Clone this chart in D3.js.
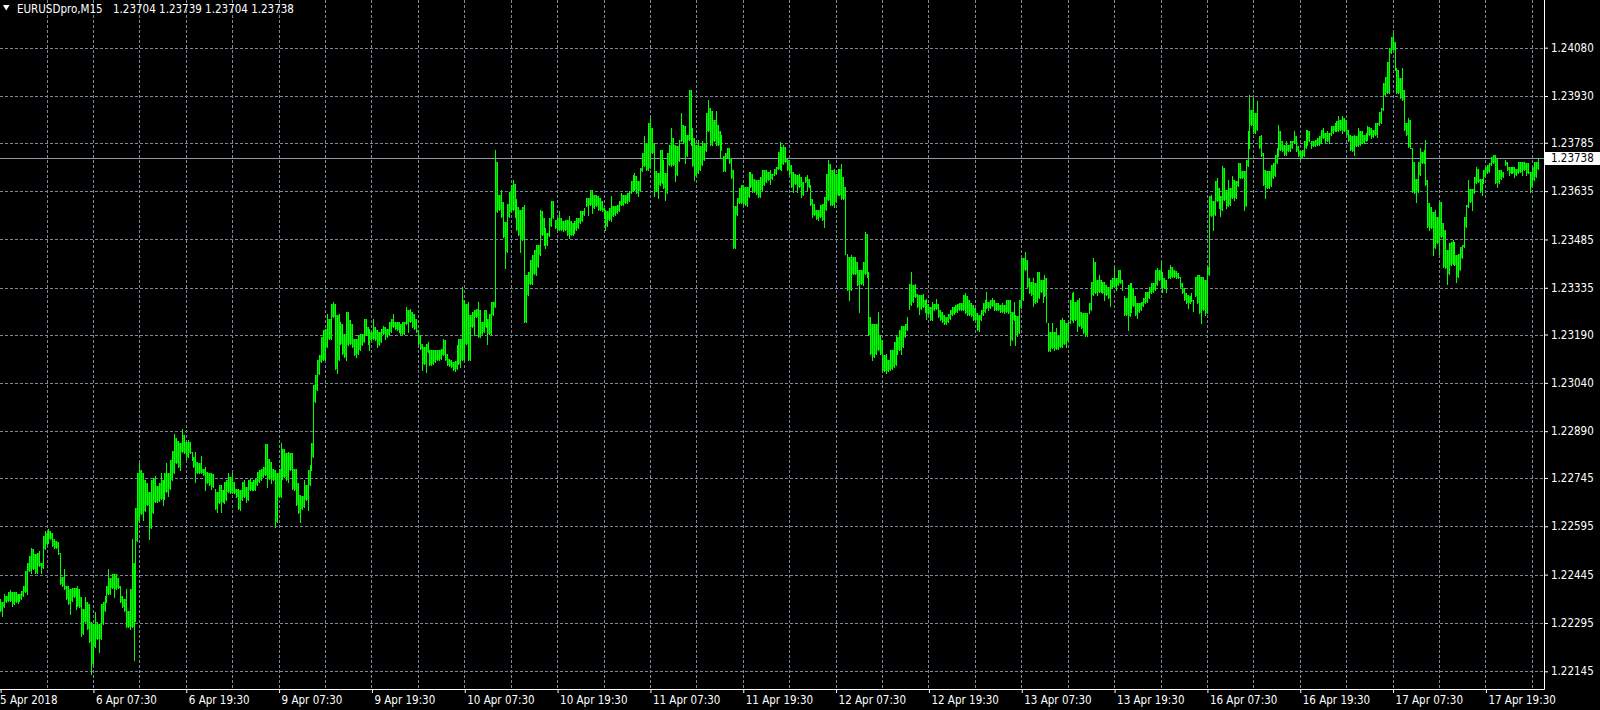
<!DOCTYPE html>
<html>
<head>
<meta charset="utf-8">
<title>EURUSDpro,M15</title>
<script src="https://cdn.jsdelivr.net/npm/d3@7/dist/d3.min.js"></script>
<style>
    html, body { margin: 0; padding: 0; background: #000; overflow: hidden; }
    svg { display: block; }
    text { font-family: "DejaVu Sans Condensed", "DejaVu Sans", sans-serif; font-stretch: condensed; font-size: 11.5px; fill: #fff; }
</style>
</head>
<body>
<div id="chart-container"></div>
<script>
// header: symbol and last bar O/H/L/C
var symbol = 'EURUSDpro,M15';
var lastQuote = [1.23704, 1.23739, 1.23704, 1.23738];
var bidPrice = 1.23738;

// price scale labels (right)
var priceTicks = [1.24080, 1.23930, 1.23785, 1.23635, 1.23485, 1.23335, 1.23190,
                  1.23040, 1.22890, 1.22745, 1.22595, 1.22445, 1.22295, 1.22145];

// time scale labels, one every 48 bars (12h of M15)
var timeLabels = ['5 Apr 2018', '6 Apr 07:30', '6 Apr 19:30', '9 Apr 07:30', '9 Apr 19:30',
                  '10 Apr 07:30', '10 Apr 19:30', '11 Apr 07:30', '11 Apr 19:30', '12 Apr 07:30',
                  '12 Apr 19:30', '13 Apr 07:30', '13 Apr 19:30', '16 Apr 07:30', '16 Apr 19:30',
                  '17 Apr 07:30', '17 Apr 19:30'];

// M15 bars as [high, low] in points (0.00001) above 1.20000, one array per trading day
var apr05 = [[2369,2333],[2359,2318],[2384,2343],[2379,2359],[2390,2364],[2397,2364],[2390,2348],[2390,2354],[2390,2359],[2386,2356],[2384,2364],[2393,2369],[2410,2379],[2456,2390],[2482,2384],[2503,2456],[2528,2451],[2523,2461]];
var apr06 = [[2508,2451],[2513,2451],[2518,2472],[2482,2451],[2564,2467],[2580,2523],[2575,2539],[2585,2544],[2580,2557],[2575,2533],[2554,2528],[2549,2528],
    [2547,2508],[2513,2415],[2438,2410],[2461,2400],[2410,2369],[2410,2354],[2400,2323],[2403,2364],[2403,2374],[2405,2338],[2410,2348],[2400,2343],
    [2374,2256],[2338,2261],[2374,2297],[2359,2276],[2354,2235],[2297,2138],[2292,2168],[2328,2220],[2297,2246],[2292,2204],[2354,2246],[2359,2292],
    [2379,2333],[2410,2359],[2461,2384],[2436,2384],[2446,2405],[2446,2374],[2446,2400],[2436,2405],[2410,2359],[2379,2343],[2369,2333],[2400,2282],
    [2333,2282],[2400,2276],[2554,2282],[2482,2179],[2652,2302],[2760,2549],[2790,2612],[2770,2632],[2760,2616],[2740,2642],[2730,2660],[2700,2554],
    [2740,2591],[2745,2637],[2750,2670],[2720,2670],[2730,2672],[2760,2680],[2740,2660],[2760,2680],[2790,2700],[2760,2690],[2800,2710],[2830,2740],
    [2880,2760],[2870,2790],[2860,2780],[2852,2769],[2896,2826],[2878,2821],[2857,2800],[2862,2811],[2857,2821],[2826,2800],[2811,2780],[2826,2733],
    [2795,2759],[2790,2759],[2813,2759],[2774,2754],[2780,2707],[2764,2728],[2761,2723],[2759,2712],[2757,2717],[2712,2650],[2702,2640],[2723,2666]];
var apr09 = [[2723,2640],[2707,2671],[2733,2666],[2738,2676],[2759,2702],[2748,2697],[2759,2699],[2733,2697],[2712,2686],[2712,2650],[2707,2645],[2733,2676],
    [2738,2686],[2717,2671],[2738,2676],[2743,2707],[2733,2707],[2738,2707],[2743,2709],[2764,2723],[2769,2733],[2774,2738],[2780,2748],[2850,2754],
    [2850,2717],[2805,2743],[2795,2728],[2774,2738],[2771,2593],[2759,2609],[2774,2686],[2852,2686],[2836,2743],[2836,2748],[2821,2738],[2826,2733],
    [2821,2769],[2821,2712],[2774,2707],[2774,2661],[2728,2635],[2692,2609],[2689,2650],[2738,2655],[2723,2676],[2769,2645],[2785,2723],[2852,2769],
    [3033,2811],[3064,2981],[3111,3017],[3126,3069],[3183,3105],[3204,3111],[3208,3110],[3255,3151],[3239,3177],[3286,3177],[3291,3244],[3286,3084],
    [3250,3070],[3255,3110],[3229,3162],[3224,3131],[3193,3120],[3260,3110],[3260,3156],[3234,3162],[3224,3151],[3177,3125],[3177,3120],[3187,3131],
    [3191,3141],[3191,3156],[3239,3167],[3239,3187],[3213,3162],[3208,3141],[3198,3172],[3239,3177],[3213,3172],[3203,3151],[3198,3156],[3208,3167],
    [3218,3193],[3213,3177],[3208,3182],[3229,3187],[3239,3198],[3255,3213],[3229,3208],[3229,3203],[3229,3198],[3224,3193],[3229,3193],[3229,3193]];
var apr10 = [[3275,3224],[3265,3198],[3270,3229],[3260,3213],[3255,3208],[3239,3198],[3203,3162],[3187,3146],[3162,3080],[3151,3100],[3162,3075],[3167,3136],
    [3141,3095],[3141,3095],[3141,3098],[3141,3105],[3141,3110],[3141,3110],[3146,3115],[3177,3125],[3174,3110],[3131,3095],[3115,3092],[3112,3088],
    [3105,3080],[3108,3078],[3156,3082],[3177,3100],[3177,3090],[3338,3110],[3296,3110],[3286,3162],[3291,3110],[3250,3110],[3260,3213],[3265,3187],
    [3270,3244],[3291,3182],[3265,3182],[3229,3193],[3265,3198],[3265,3213],[3239,3162],[3255,3193],[3291,3193],[3291,3250],[3762,3275],[3726,3570],
    [3622,3576],[3638,3555],[3601,3493],[3539,3395],[3596,3446],[3633,3555],[3653,3570],[3669,3576],[3658,3555],[3612,3514],[3586,3498],[3576,3446],
    [3586,3482],[3591,3229],[3374,3229],[3384,3312],[3420,3348],[3436,3348],[3451,3379],[3467,3374],[3467,3400],[3577,3438],[3572,3500],[3551,3469],
    [3520,3458],[3505,3469],[3551,3495],[3603,3526],[3603,3551],[3546,3520],[3551,3515],[3572,3515],[3551,3515],[3541,3510],[3546,3515],[3546,3500],
    [3557,3489],[3541,3500],[3536,3500],[3541,3505],[3551,3515],[3551,3520],[3572,3536],[3572,3541],[3582,3562],[3614,3588],[3614,3562],[3639,3593]];
var apr11 = [[3639,3567],[3624,3582],[3624,3588],[3619,3577],[3614,3577],[3603,3572],[3582,3551],[3577,3515],[3572,3526],[3582,3546],[3619,3541],[3588,3557],
    [3588,3562],[3593,3567],[3603,3572],[3629,3593],[3624,3593],[3624,3598],[3629,3598],[3634,3603],[3665,3629],[3686,3634],[3691,3639],[3681,3629],
    [3665,3619],[3707,3634],[3753,3696],[3805,3712],[3784,3702],[3846,3702],[3862,3707],[3831,3753],[3784,3619],[3696,3634],[3691,3614],[3764,3655],
    [3764,3660],[3733,3645],[3691,3608],[3753,3629],[3779,3717],[3831,3712],[3800,3717],[3779,3665],[3774,3686],[3795,3727],[3877,3790],[3841,3784],
    [3836,3722],[3810,3743],[3950,3795],[3950,3779],[3831,3712],[3800,3670],[3779,3681],[3795,3691],[3774,3702],[3790,3717],[3784,3733],[3877,3758],
    [3919,3820],[3893,3779],[3883,3779],[3857,3790],[3883,3779],[3841,3779],[3820,3738],[3810,3764],[3743,3696],[3753,3696],[3769,3738],[3769,3722],
    [3738,3676],[3700,3458],[3588,3460],[3614,3562],[3645,3598],[3655,3598],[3653,3596],[3648,3591],[3648,3588],[3695,3617],[3695,3648],[3689,3632],
    [3674,3632],[3669,3627],[3669,3617],[3679,3617],[3700,3638],[3700,3653],[3700,3664],[3695,3669],[3700,3658],[3689,3674],[3705,3684],[3710,3689]];
var apr12 = [[3757,3705],[3788,3705],[3772,3700],[3777,3720],[3772,3726],[3736,3700],[3731,3689],[3715,3648],[3695,3632],[3689,3658],[3684,3632],[3689,3648],
    [3679,3617],[3664,3622],[3679,3664],[3684,3638],[3674,3648],[3653,3591],[3612,3555],[3596,3560],[3576,3550],[3576,3545],[3591,3555],[3596,3545],
    [3617,3524],[3689,3576],[3731,3607],[3720,3591],[3700,3591],[3705,3586],[3689,3601],[3705,3622],[3705,3622],[3720,3612],[3679,3612],[3648,3441],
    [3441,3327],[3431,3296],[3436,3327],[3431,3379],[3431,3379],[3415,3343],[3389,3260],[3389,3348],[3415,3343],[3508,3379],[3503,3369],[3384,3187],
    [3244,3131],[3224,3110],[3224,3120],[3224,3131],[3260,3141],[3188,3131],[3172,3075],[3125,3078],[3131,3072],[3110,3076],[3141,3080],[3141,3084],
    [3167,3088],[3187,3095],[3182,3131],[3203,3141],[3218,3131],[3218,3151],[3224,3182],[3244,3203],[3348,3270],[3384,3281],[3343,3291],[3348,3307],
    [3317,3275],[3312,3255],[3312,3270],[3317,3275],[3296,3260],[3301,3239],[3286,3255],[3275,3234],[3291,3234],[3286,3265],[3301,3270],[3286,3244],
    [3265,3234],[3260,3229],[3250,3224],[3244,3224],[3255,3229],[3265,3239],[3275,3250],[3275,3255],[3281,3260],[3286,3260],[3287,3266],[3287,3266]];
var apr13 = [[3313,3266],[3318,3256],[3308,3251],[3297,3251],[3287,3246],[3282,3236],[3272,3236],[3256,3205],[3251,3200],[3266,3236],[3287,3251],[3297,3261],
    [3323,3272],[3292,3266],[3297,3272],[3303,3277],[3297,3266],[3287,3266],[3287,3266],[3282,3261],[3287,3261],[3282,3256],[3297,3261],[3297,3256],
    [3297,3158],[3261,3174],[3292,3236],[3251,3158],[3246,3184],[3297,3194],[3426,3272],[3426,3297],[3447,3390],[3421,3339],[3364,3318],[3354,3313],
    [3364,3277],[3349,3287],[3385,3292],[3385,3303],[3359,3323],[3359,3292],[3375,3308],[3364,3230],[3225,3140],[3199,3138],[3225,3148],[3199,3142],
    [3210,3146],[3189,3145],[3236,3150],[3241,3152],[3236,3160],[3225,3150],[3230,3169],[3297,3225],[3318,3236],[3323,3230],[3292,3236],[3297,3200],
    [3303,3215],[3261,3210],[3256,3194],[3256,3184],[3256,3184],[3287,3256],[3354,3266],[3426,3313],[3416,3318],[3359,3313],[3375,3323],[3359,3323],
    [3354,3318],[3354,3297],[3344,3313],[3339,3303],[3359,3277],[3364,3333],[3400,3339],[3364,3328],[3390,3344],[3390,3349],[3359,3328],[3308,3251],
    [3303,3251],[3344,3205],[3349,3246],[3349,3261],[3333,3277],[3308,3251],[3287,3241],[3287,3261],[3292,3266],[3303,3277],[3323,3287],[3323,3292]];
var apr16 = [[3339,3303],[3349,3318],[3349,3323],[3390,3328],[3395,3344],[3390,3359],[3416,3339],[3385,3323],[3364,3333],[3359,3323],[3391,3365],[3407,3365],
    [3401,3370],[3391,3370],[3386,3365],[3381,3365],[3370,3339],[3350,3319],[3334,3298],[3319,3288],[3313,3272],[3308,3288],[3319,3293],[3298,3262],
    [3370,3308],[3376,3288],[3376,3256],[3370,3225],[3370,3267],[3360,3251],[3401,3256],[3619,3376],[3624,3557],[3603,3515],[3665,3562],[3676,3603],
    [3645,3582],[3619,3557],[3712,3577],[3707,3608],[3639,3582],[3670,3588],[3645,3593],[3681,3614],[3670,3608],[3665,3614],[3722,3650],[3722,3676],
    [3696,3676],[3696,3577],[3733,3588],[3821,3712],[3934,3769],[3888,3841],[3924,3815],[3877,3815],[3914,3826],[3805,3769],[3810,3743],[3753,3655],
    [3702,3614],[3696,3645],[3696,3645],[3717,3650],[3722,3676],[3748,3681],[3769,3722],[3841,3743],[3821,3764],[3790,3758],[3779,3748],[3790,3748],
    [3779,3758],[3790,3758],[3790,3769],[3821,3784],[3805,3758],[3774,3743],[3758,3733],[3764,3738],[3790,3743],[3826,3769],[3826,3779],[3821,3790],
    [3790,3769],[3790,3774],[3795,3774],[3800,3779],[3805,3779],[3826,3784],[3831,3800],[3815,3784],[3821,3790],[3815,3784],[3836,3810],[3836,3815]];
var apr17 = [[3846,3821],[3852,3821],[3867,3821],[3857,3826],[3867,3815],[3862,3821],[3857,3810],[3826,3790],[3810,3764],[3805,3758],[3810,3748],[3805,3774],
    [3831,3774],[3821,3779],[3821,3784],[3810,3784],[3815,3790],[3836,3795],[3835,3809],[3830,3799],[3825,3804],[3845,3809],[3845,3804],[3881,3840],
    [3892,3845],[3969,3887],[3990,3933],[4037,3938],[4078,3938],[4114,4063],[4125,4073],[4099,4011],[4016,3938],[4011,3938],[3985,3923],[4016,3918],
    [3949,3825],[3845,3809],[3861,3773],[3856,3768],[3770,3633],[3726,3628],[3674,3602],[3726,3633],[3768,3685],[3757,3721],[3762,3721],[3793,3654],
    [3669,3524],[3597,3514],[3586,3519],[3571,3436],[3576,3457],[3555,3473],[3602,3441],[3602,3493],[3535,3400],[3514,3395],[3452,3348],[3473,3379],
    [3478,3405],[3483,3410],[3478,3405],[3436,3354],[3441,3369],[3462,3390],[3467,3426],[3555,3462],[3592,3524],[3669,3586],[3643,3602],[3643,3576],
    [3680,3628],[3711,3659],[3705,3664],[3674,3633],[3674,3623],[3700,3659],[3711,3680],[3716,3690],[3721,3695],[3742,3716],[3747,3721],[3747,3659],
    [3736,3649],[3700,3659],[3700,3674],[3695,3680],[3731,3716],[3726,3700],[3711,3685],[3711,3690],[3711,3690],[3711,3680],[3705,3685],[3726,3690]];
var apr18 = [[3726,3695],[3726,3685],[3726,3700],[3721,3685],[3721,3690],[3695,3633],[3711,3649],[3726,3669],[3726,3680],[3739,3704]];

(function (d3) {
    'use strict';

    var tradingDays = [apr05, apr06, apr09, apr10, apr11, apr12, apr13, apr16, apr17, apr18];
    var priceBase = 1.2, point = 0.00001;
    var barsPerGrid = 24, barsPerLabel = 48;

    var width = 1600, height = 710;
    var plotRight = 1544, plotBottom = 689;
    var barStep = 1.934, firstBarX = 0.6;

    var bars = [];
    tradingDays.forEach(function (day) {
        day.forEach(function (hl) {
            bars.push({ i: bars.length, hi: priceBase + hl[0] * point, lo: priceBase + hl[1] * point });
        });
    });

    var x = d3.scaleLinear()
        .domain([0, bars.length - 1])
        .range([firstBarX, firstBarX + (bars.length - 1) * barStep]);
    var y = d3.scaleLinear()
        .domain([priceTicks[priceTicks.length - 1], priceTicks[0]])
        .range([671.3, 47.7]);
    // snap to the pixel grid like the terminal does
    function px(i) { return Math.floor(x(i)) + 0.5; }

    var svg = d3.select('#chart-container').append('svg')
        .attr('width', width)
        .attr('height', height);

    svg.append('rect').attr('width', width).attr('height', height).attr('fill', '#000');

    // grid
    var grid = svg.append('g').attr('class', 'grid')
        .attr('stroke', '#778899').attr('stroke-width', 1).attr('stroke-dasharray', '3,2');
    grid.selectAll('line.h').data(priceTicks).enter().append('line')
        .attr('class', 'h')
        .attr('x1', 0).attr('x2', plotRight)
        .attr('y1', function (d) { return Math.round(y(d)) + 0.5; })
        .attr('y2', function (d) { return Math.round(y(d)) + 0.5; });
    grid.selectAll('line.v').data(d3.range(barsPerGrid, bars.length, barsPerGrid)).enter().append('line')
        .attr('class', 'v')
        .attr('y1', 0).attr('y2', plotBottom)
        .attr('x1', function (d) { return px(d); })
        .attr('x2', function (d) { return px(d); });

    // bid line
    svg.append('line')
        .attr('x1', 0).attr('x2', plotRight)
        .attr('y1', Math.round(y(bidPrice)) + 0.5).attr('y2', Math.round(y(bidPrice)) + 0.5)
        .attr('stroke', '#8f9aa6').attr('stroke-width', 1);

    // where two neighbouring bars overlap, the gap between them reads as a solid block
    var pairs = d3.pairs(bars).filter(function (p) {
        return Math.min(p[0].hi, p[1].hi) > Math.max(p[0].lo, p[1].lo);
    });
    svg.append('g').attr('class', 'fill')
        .selectAll('rect').data(pairs).enter().append('rect')
        .attr('x', function (p) { return px(p[0].i) + 0.5; })
        .attr('width', function (p) { return Math.max(0, px(p[1].i) - px(p[0].i) - 1); })
        .attr('y', function (p) { return Math.round(y(Math.min(p[0].hi, p[1].hi))); })
        .attr('height', function (p) {
            return Math.max(1, Math.round(y(Math.max(p[0].lo, p[1].lo))) - Math.round(y(Math.min(p[0].hi, p[1].hi))));
        })
        .attr('fill', '#00b400');

    // bars (high-low)
    svg.append('g').attr('class', 'bars')
        .selectAll('line').data(bars).enter().append('line')
        .attr('x1', function (d) { return px(d.i); })
        .attr('x2', function (d) { return px(d.i); })
        .attr('y1', function (d) { return Math.round(y(d.hi)); })
        .attr('y2', function (d) { return Math.round(y(d.lo)) + 1; })
        .attr('stroke', '#00ff00')
        .attr('stroke-width', 1);

    // price axis
    var yAxis = d3.axisRight(y)
        .tickValues(priceTicks)
        .tickFormat(d3.format('.5f'))
        .tickSize(4)
        .tickPadding(3);
    var gy = svg.append('g')
        .attr('transform', 'translate(' + plotRight + ',0)')
        .call(yAxis);
    gy.select('.domain').remove();
    gy.selectAll('.tick line').attr('stroke', '#fff');
    gy.selectAll('.tick text').attr('fill', '#fff');

    // time axis
    var labelBars = timeLabels.map(function (t, k) { return k * barsPerLabel; });
    var xAxis = d3.axisBottom(x)
        .tickValues(labelBars)
        .tickFormat(function (d, k) { return timeLabels[k]; })
        .tickSize(4)
        .tickPadding(3);
    var gx = svg.append('g')
        .attr('transform', 'translate(0,' + plotBottom + ')')
        .call(xAxis);
    gx.select('.domain').remove();
    gx.selectAll('.tick line').attr('stroke', '#fff');
    gx.selectAll('.tick text')
        .attr('fill', '#fff')
        .attr('text-anchor', 'start')
        .attr('x', function (d, k) { return k === 0 ? -1 : 2; });

    // frame lines
    svg.append('line').attr('x1', plotRight + 0.5).attr('x2', plotRight + 0.5)
        .attr('y1', 0).attr('y2', plotBottom + 0.5).attr('stroke', '#fff');
    svg.append('line').attr('x1', 0).attr('x2', plotRight + 0.5)
        .attr('y1', plotBottom + 0.5).attr('y2', plotBottom + 0.5).attr('stroke', '#fff');

    // bid label
    var by = y(bidPrice);
    svg.append('rect')
        .attr('x', plotRight + 1).attr('y', Math.round(by) - 6)
        .attr('width', width - plotRight - 1).attr('height', 13)
        .attr('fill', '#fff');
    svg.append('text')
        .attr('x', plotRight + 7).attr('y', by).attr('dy', '0.32em')
        .style('fill', '#000')
        .text(d3.format('.5f')(bidPrice));

    // header
    svg.append('path').attr('d', 'M3,5L9.5,5L6.25,10.5Z').attr('fill', '#fff');
    svg.append('text').attr('x', 17).attr('y', 12.5).text(symbol);
    svg.append('text').attr('x', 113).attr('y', 12.5)
        .text(lastQuote.map(d3.format('.5f')).join(' '));

}(window.d3));
</script>
</body>
</html>
